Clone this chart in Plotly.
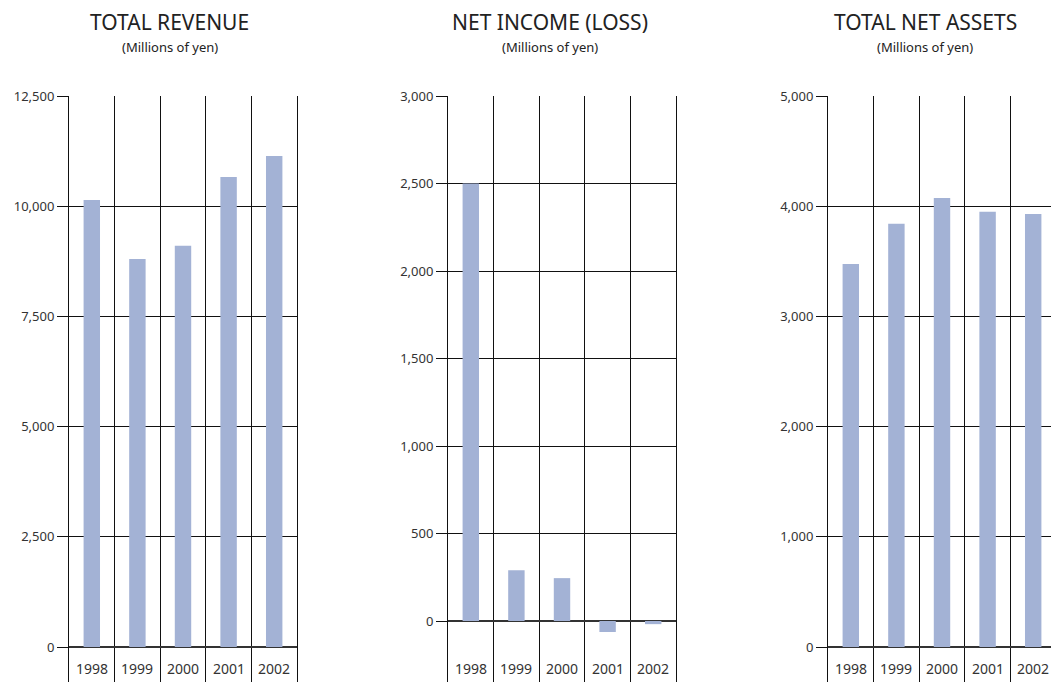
import plotly.graph_objects as go

years = ["1998", "1999", "2000", "2001", "2002"]
revenue = [10140, 8800, 9100, 10660, 11140]
net_income = [2500, 290, 245, -63, -18]
net_assets = [3475, 3840, 4075, 3950, 3930]

titles = ["TOTAL REVENUE", "NET INCOME (LOSS)", "TOTAL NET ASSETS"]
subtitle = "(Millions of yen)"

W, H = 1051, 682
BAR = "#A3B2D5"
FONT = "Noto Sans"
TXT = "#333333"

# panel geometry in pixels
panels = [
    dict(x0=69, x1=297, top=12500, dtick=2500, zero_px=647, vals=revenue, title_cx=169.5, right=True),
    dict(x0=448, x1=676, top=3000, dtick=500, zero_px=621, vals=net_income, title_cx=550, right=True),
    dict(x0=828, x1=1051, top=5000, dtick=1000, zero_px=647, vals=net_assets, title_cx=925, right=False),
]
TOP_PX = 96
CAT_W = 45.6

fig = go.Figure()
layout = dict(
    width=W, height=H, margin=dict(l=0, r=0, t=0, b=0, autoexpand=False),
    paper_bgcolor="white", plot_bgcolor="white", showlegend=False,
    font=dict(family=FONT, color=TXT),
)
annotations = []
for i, p in enumerate(panels):
    n = "" if i == 0 else str(i + 1)
    xa, ya = "x" + n, "y" + n
    xs = [k + 0.5 for k in range(len(years))]
    fig.add_trace(go.Bar(x=xs, y=p["vals"], width=0.36, marker=dict(color=BAR, line=dict(width=0)),
                         xaxis=xa, yaxis=ya, hoverinfo="skip"))
    xr1 = (p["x1"] - p["x0"]) / CAT_W
    scale = (p["zero_px"] - TOP_PX) / p["top"]
    ybottom = -(H - p["zero_px"]) / scale
    layout["xaxis" + n] = dict(
        domain=[p["x0"] / W, p["x1"] / W], range=[0, xr1], anchor=ya,
        tickvals=[1, 2, 3, 4], showticklabels=False, ticks="",
        showgrid=True, gridcolor="#111111", gridwidth=1, zeroline=False,
        showline=False, fixedrange=True, automargin=False,
    )
    layout["yaxis" + n] = dict(
        domain=[0, (H - TOP_PX) / H], range=[ybottom, p["top"]], anchor=xa,
        tickvals=list(range(0, p["top"] + 1, p["dtick"])), tickformat=",",
        ticks="outside", ticklen=11, tickcolor="#111111", tickwidth=1,
        tickfont=dict(size=13, color=TXT, family=FONT),
        showgrid=True, gridcolor="#111111", gridwidth=1,
        zeroline=True, zerolinecolor="#333333", zerolinewidth=1.6,
        showline=True, linecolor="#111111", linewidth=1, mirror=p["right"],
        fixedrange=True, automargin=False,
    )
    annotations.append(dict(text=titles[i], x=p["title_cx"] / W, y=1 - 22 / H, xref="paper", yref="paper",
                            showarrow=False, xanchor="center", yanchor="middle",
                            font=dict(size=21, color="#222222", family=FONT)))
    annotations.append(dict(text=subtitle, x=p["title_cx"] / W, y=1 - 47 / H, xref="paper", yref="paper",
                            showarrow=False, xanchor="center", yanchor="middle",
                            font=dict(size=13, color="#222222", family=FONT)))
    for k, yr in enumerate(years):
        annotations.append(dict(text=yr, x=k + 0.5, xref=xa, y=(H - 668) / (H - TOP_PX), yref=ya + " domain",
                                showarrow=False, xanchor="center", yanchor="middle",
                                font=dict(size=14, color=TXT, family=FONT)))

layout["annotations"] = annotations
fig.update_layout(**layout)
fig.write_html("out.html")
